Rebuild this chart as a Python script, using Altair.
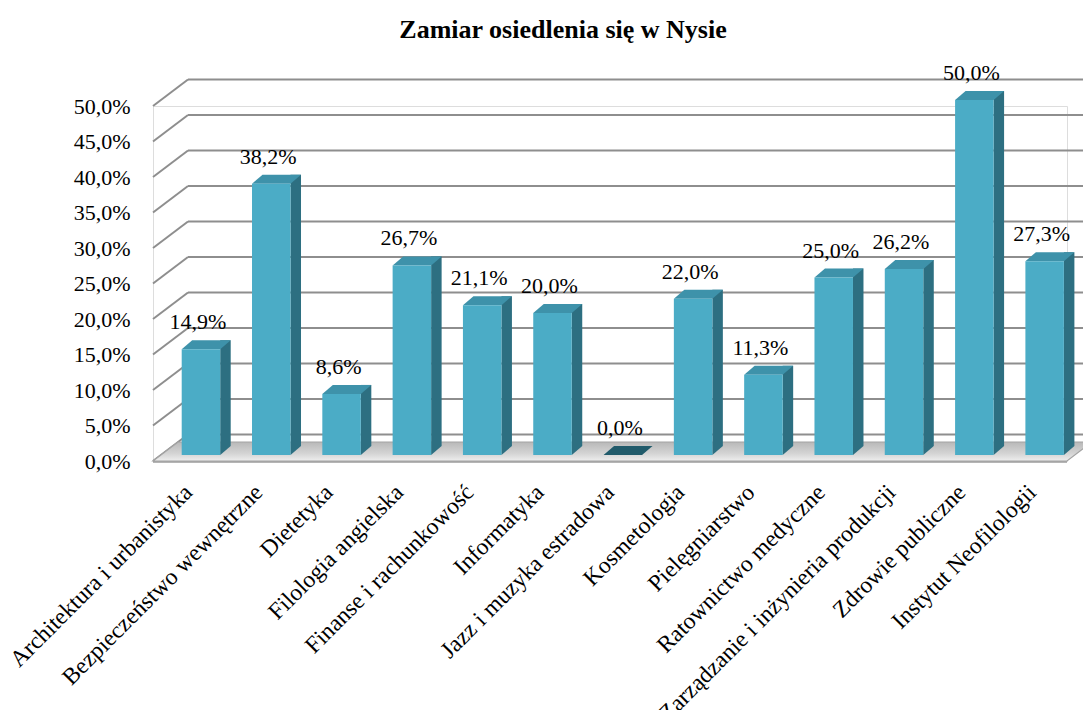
import altair as alt
import pandas as pd

# ---- data ----
categories = [
    "Architektura i urbanistyka",
    "Bezpieczeństwo wewnętrzne",
    "Dietetyka",
    "Filologia angielska",
    "Finanse i rachunkowość",
    "Informatyka",
    "Jazz i muzyka estradowa",
    "Kosmetologia",
    "Pielęgniarstwo",
    "Ratownictwo medyczne",
    "Zarządzanie i inżynieria produkcji",
    "Zdrowie publiczne",
    "Instytut Neofilologii",
]
values = [14.9, 38.2, 8.6, 26.7, 21.1, 20.0, 0.0, 22.0, 11.3, 25.0, 26.2, 50.0, 27.3]
y_ticks = [0, 5, 10, 15, 20, 25, 30, 35, 40, 45, 50]
title_text = "Zamiar osiedlenia się w Nysie"

# ---- styling constants (pixels) ----
W, H = 914, 355
WALL_DX, WALL_DY = 35, 26.5
FLOOR_DX, FLOOR_DY = 25, 19
BAR_W = 38.5
BAR_SHIFT = 12.8
BAR_LIFT = 6
DEPTH_X, DEPTH_Y = 10.5, 9
FRONT = "#4BACC6"
SIDE = "#2D6F81"
TOP = "#3E92AA"
TOP_ZERO = "#215B6B"
GRID = "#8E8E8E"
FONT = "Liberation Serif"

bars = pd.DataFrame({"cat": categories, "v": values})
ticks = pd.DataFrame({"v": y_ticks})
base_row = pd.DataFrame({"v": [0]})

x_scale = alt.Scale(domain=categories, paddingInner=0, paddingOuter=0)
y_scale = alt.Scale(domain=[0, 50], nice=False)

x_axis = alt.Axis(labelAngle=-45, labelAlign="right", labelBaseline="top",
                  labelFont=FONT, labelFontSize=23.5, labelColor="black",
                  labelPadding=19, labelOffset=-8, labelLimit=500,
                  domain=False, ticks=False, grid=False)
y_axis = alt.Axis(values=y_ticks,
                  labelExpr="replace(format(datum.value,'.1f'),'.',',') + '%'",
                  labelFont=FONT, labelFontSize=22, labelColor="black",
                  labelPadding=23, domain=False, ticks=False, grid=False)

X = alt.X("cat:N", scale=x_scale, sort=categories, title=None, axis=x_axis)
Y = alt.Y("v:Q", scale=y_scale, title=None, axis=y_axis)
Y0 = alt.Y(datum=0, scale=y_scale, title=None, axis=y_axis)

# back wall grid lines
wall = alt.Chart(ticks).mark_rule(color=GRID, strokeWidth=2, yOffset=-WALL_DY).encode(
    y=Y, x=alt.value(WALL_DX), x2=alt.value(W + 30),
)
# side wall diagonals
diag = alt.Chart(ticks).mark_rule(color=GRID, strokeWidth=2, y2Offset=-WALL_DY).encode(
    y=Y, y2=alt.Y2("v:Q"), x=alt.value(0), x2=alt.value(WALL_DX),
)

floor_path = f"M0,0 L{W},0 L{W + FLOOR_DX},{-FLOOR_DY} L{FLOOR_DX},{-FLOOR_DY} Z"
floor_fill = alt.LinearGradient(
    gradient="linear", x1=0, y1=0, x2=0, y2=1,
    stops=[alt.GradientStop(color="#B8B8B8", offset=0),
           alt.GradientStop(color="#D4D4D4", offset=0.6),
           alt.GradientStop(color="#EEEEEE", offset=1)],
)
floor = alt.Chart(base_row).mark_point(
    shape=floor_path, size=4, filled=True, fill=floor_fill, stroke="#A3A3A3",
    strokeWidth=1.2, opacity=1,
).encode(x=alt.value(0), y=Y)

floor_edge = alt.Chart(base_row).mark_rule(color="#9C9C9C", strokeWidth=1.5, yOffset=1).encode(
    y=Y, x=alt.value(0), x2=alt.value(W),
)

side = alt.Chart(bars).mark_bar(
    width=DEPTH_X, color=SIDE,
    xOffset=BAR_SHIFT + BAR_W / 2 + DEPTH_X / 2,
    yOffset=-BAR_LIFT - DEPTH_Y, y2Offset=-BAR_LIFT - DEPTH_Y,
).encode(x=X, y=Y, y2=alt.Y2(datum=0))

tri_path = f"M0,0 L0,{-DEPTH_Y} L{DEPTH_X},{-DEPTH_Y} Z"
side_tri = alt.Chart(bars).transform_filter("datum.v > 0").mark_point(
    shape=tri_path, size=4, filled=True, fill=SIDE, strokeWidth=0, opacity=1,
    xOffset=BAR_SHIFT + BAR_W / 2, yOffset=-BAR_LIFT,
).encode(x=X, y=Y0)

top_path = f"M0,0 L{BAR_W},0 L{BAR_W + DEPTH_X},{-DEPTH_Y} L{DEPTH_X},{-DEPTH_Y} Z"
top = alt.Chart(bars).mark_point(
    shape=top_path, size=4, filled=True, strokeWidth=0, opacity=1,
    xOffset=BAR_SHIFT - BAR_W / 2, yOffset=-BAR_LIFT,
).encode(
    x=X, y=Y,
    fill=alt.condition("datum.v == 0", alt.value(TOP_ZERO), alt.value(TOP)),
)

front = alt.Chart(bars).mark_bar(
    width=BAR_W, color=FRONT, xOffset=BAR_SHIFT,
    yOffset=-BAR_LIFT, y2Offset=-BAR_LIFT,
).encode(x=X, y=Y, y2=alt.Y2(datum=0))

labels = alt.Chart(bars).mark_text(
    font=FONT, fontSize=22, color="black", baseline="middle", align="center",
    dx=BAR_SHIFT - 3, dy=-BAR_LIFT - 27,
).encode(
    x=X, y=Y,
    text=alt.Text("lbl:N"),
).transform_calculate(lbl="replace(format(datum.v,'.1f'),'.',',') + '%'")

chart = alt.layer(wall, diag, floor, floor_edge, side, side_tri, top, front, labels).properties(
    width=W, height=H,
    title=alt.TitleParams(title_text, font=FONT, fontSize=26, fontWeight="bold",
                          color="black", anchor="middle", dx=-47, dy=-15),
    autosize=alt.AutoSizeParams(type="none"),
    padding={"left": 145, "top": 98, "right": 16, "bottom": 249},
).configure_view(stroke=None).configure(background="white", font=FONT)

chart.save("out.html", embed_options={"renderer": "svg", "actions": False})
